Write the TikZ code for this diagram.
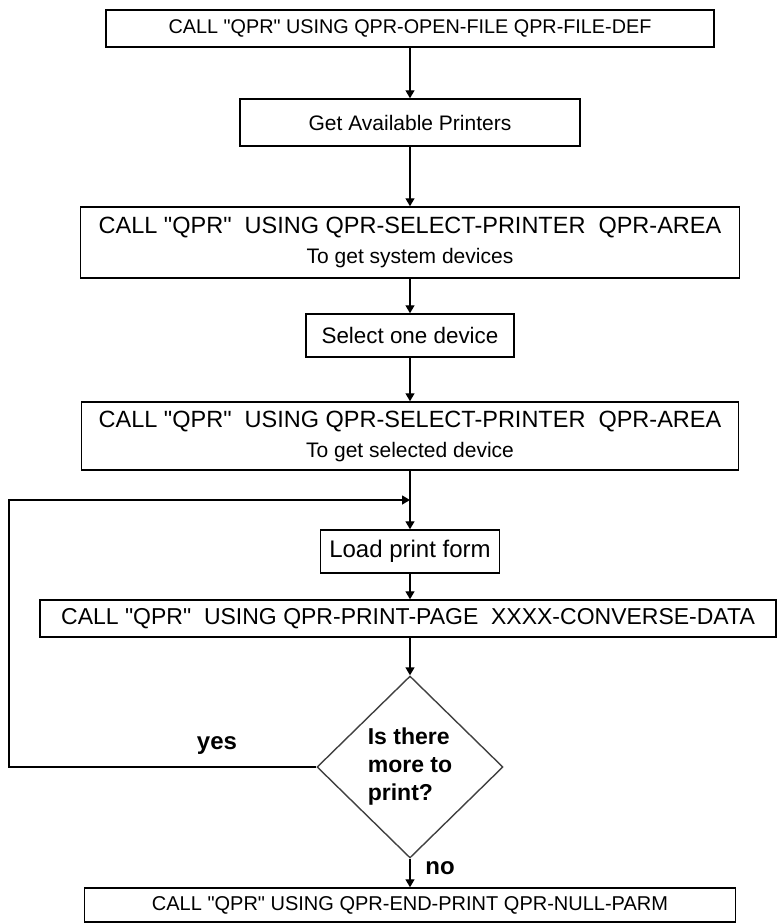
\documentclass[tikz,border=0pt]{standalone}
\usepackage{fontspec}
\setmainfont{Liberation Sans}
\usetikzlibrary{arrows.meta,shapes.geometric,positioning}
\newcommand{\qpr}{\textquotedbl QPR\textquotedbl}
\tikzset{
  box/.style={draw, line width=1.5pt, inner sep=0pt, align=center},
  flow/.style={line width=1.4pt, -{Triangle[width=9pt,length=8pt]}},
  lbl/.style={font=\bfseries\fontsize{24}{28}\selectfont}
}
\begin{document}
\begin{tikzpicture}[x=1pt,y=-1pt]
  \useasboundingbox (0,0) rectangle (780,924);
  \node[box, minimum width=608, minimum height=37, font=\fontsize{19.8}{24}\selectfont] (open) at (410,28.5) {CALL \qpr{} USING QPR-OPEN-FILE QPR-FILE-DEF};
  \node[box, minimum width=340, minimum height=47, font=\fontsize{21}{25}\selectfont] (avail) at (410,122.5) {Get Available Printers};
  \node[box, minimum width=659, minimum height=71, font=\fontsize{23.5}{30}\selectfont] (sysdev) at (410,242.5) {CALL \qpr\ \ USING QPR-SELECT-PRINTER\ \ QPR-AREA\\{\fontsize{21}{30}\selectfont To get system devices}};
  \node[box, minimum width=208, minimum height=43, font=\fontsize{22.4}{26}\selectfont] (select) at (410,335.5) {Select one device};
  \node[box, minimum width=657, minimum height=68, font=\fontsize{23.5}{30}\selectfont] (seldev) at (410,436) {CALL \qpr\ \ USING QPR-SELECT-PRINTER\ \ QPR-AREA\\{\fontsize{21}{30}\selectfont To get selected device}};
  \node[box, minimum width=179, minimum height=43, font=\fontsize{24}{28}\selectfont] (load) at (410,551.5) {Load print form};
  \node[box, minimum width=736, minimum height=37, font=\fontsize{23}{27}\selectfont] (page) at (408,618.5) {CALL \qpr\ \ USING QPR-PRINT-PAGE\ \ XXXX-CONVERSE-DATA};
  \node[draw=black!75, line width=1.4pt, diamond, inner sep=0pt, minimum width=186, minimum height=182, align=left, font=\bfseries\fontsize{23}{28}\selectfont] (more) at (410,767) {Is there\\more to\\print?};
  \node[box, minimum width=651, minimum height=34, font=\fontsize{20}{24}\selectfont] (endprint) at (410,905) {CALL \qpr{} USING QPR-END-PRINT QPR-NULL-PARM};
  \node[lbl] (yes) at (217,746) {yes};
  \node[lbl] (no) at (440,868) {no};
  \coordinate (join) at (410,500);
  \coordinate (back) at (9,500);

  \draw[flow] (open) -- (avail);
  \draw[flow] (avail) -- (sysdev);
  \draw[flow] (sysdev) -- (select);
  \draw[flow] (select) -- (seldev);
  \draw[flow] (seldev) -- (load);
  \draw[flow] (load) -- (load |- page.north);
  \draw[flow] (load |- page.south) -- (more);
  \draw[flow] (more) -- (endprint);
  \draw[flow] (more.west) -| (back) -- (join);
\end{tikzpicture}
\end{document}
